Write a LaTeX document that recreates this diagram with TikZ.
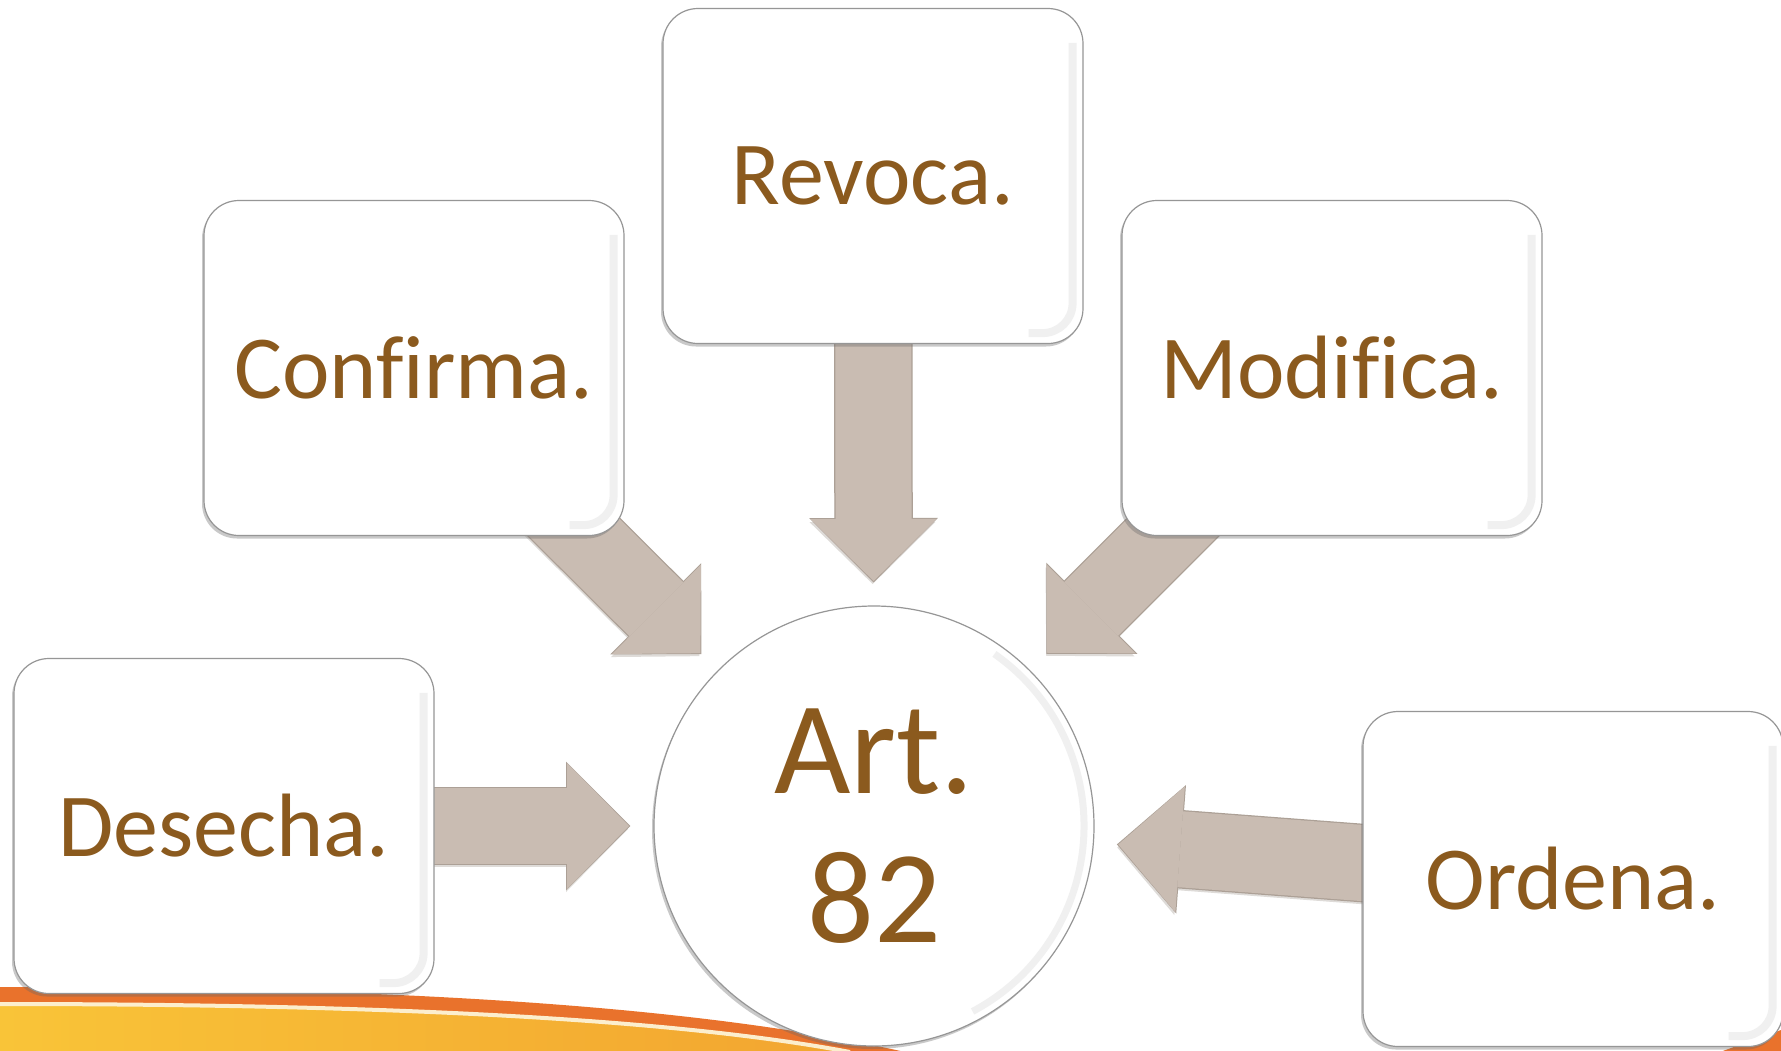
\documentclass[tikz,border=0pt]{standalone}
\usepackage{fontspec}
\setmainfont{Carlito}[Ligatures=NoCommon]
\usetikzlibrary{arrows.meta,shadows,calc}
\definecolor{txtbrown}{RGB}{139,90,30}
\definecolor{arrfill}{RGB}{201,188,178}
\definecolor{arredge}{RGB}{172,160,150}
\definecolor{arrshade}{RGB}{222,219,216}
\definecolor{boxedge}{RGB}{150,150,150}
\definecolor{bevelgray}{RGB}{240,240,240}
\definecolor{swooshorange}{RGB}{233,114,44}
\definecolor{swooshyellow}{RGB}{242,165,48}
\definecolor{swooshlight}{RGB}{249,196,56}
\definecolor{swooshcream}{RGB}{252,238,205}
\pgfdeclarelayer{bg}
\pgfdeclarelayer{arr}
\pgfsetlayers{bg,arr,main}
\tikzset{
  card/.style={rectangle, rounded corners=35pt, minimum width=420pt, minimum height=335pt,
    fill=white, draw=boxedge, line width=1.2pt, inner sep=0pt, text=txtbrown,
    font=\fontsize{90}{100}\selectfont,
    drop shadow={shadow xshift=-2pt, shadow yshift=-3pt, opacity=0.35, fill=black!60}},
  hub/.style={circle, minimum size=440pt, inner sep=0pt, fill=white, draw=boxedge,
    line width=1.2pt, text=txtbrown, align=center, font=\fontsize{132}{149}\selectfont,
    drop shadow={shadow xshift=-2pt, shadow yshift=-3pt, opacity=0.35, fill=black!60}},
  arrowshade/.style={draw=arrshade, line width=76pt, shorten >=245pt,
    -{Triangle[width=126pt,length=62pt,line width=0pt]},
    transform canvas={xshift=-1pt,yshift=-3pt}},
  arrowedge/.style={draw=arredge, line width=78.5pt, shorten >=243.6pt,
    -{Triangle[width=128.8pt,length=64.4pt,line width=0pt]}},
  arrowbody/.style={draw=arrfill, line width=76pt, shorten >=245pt,
    -{Triangle[width=126pt,length=62pt,line width=0pt]}},
  bevelline/.style={draw=bevelgray, line width=8pt, rounded corners=30pt},
}
\newcommand{\cardbevel}[1]{%
  \draw[bevelline] ([xshift=-11pt,yshift=-35pt]#1.north east) --
    ([xshift=-11pt,yshift=11pt]#1.south east) --
    ([xshift=-55pt,yshift=11pt]#1.south east);}
\begin{document}
\begin{tikzpicture}[x=1pt,y=-1pt]
\useasboundingbox (0,0) rectangle (1781,1050);
% nodes
\node[card] (revoca) at (873,176) {Revoca.};
\node[card] (confirma) at (414,368) {Confirma.};
\node[card] (modifica) at (1332,368) {Modifica.};
\node[card] (desecha) at (224,826) {Desecha.};
\node[card] (ordena) at (1573,879) {Ordena.};
\node[hub] (art) at (874,826) {Art.\\82};
\foreach \c in {revoca,confirma,modifica,desecha,ordena} {\cardbevel{\c}}
\draw[draw=bevelgray, line width=7pt] (art.center) ++(-62:210pt) arc[start angle=-62, end angle=55, radius=210pt];
% background and swoosh
\begin{pgfonlayer}{bg}
\fill[white] (0,0) rectangle (1781,1050);
\fill[swooshorange] (0,987) .. controls (400,987) and (700,1006) .. (905,1052) -- (0,1052) -- cycle;
\shade[left color=swooshlight, right color=swooshyellow]
  (0,1004) .. controls (400,1004) and (680,1020) .. (850,1052) -- (0,1052) -- cycle;
\draw[swooshcream, line width=4pt] (0,1004) .. controls (400,1004) and (680,1020) .. (850,1052);
\fill[swooshorange] (1720,1052) -- (1781,1030) -- (1781,1052) -- cycle;
\end{pgfonlayer}
% block arrows
\begin{pgfonlayer}{arr}
\foreach \s in {revoca,confirma,modifica,desecha,ordena} {
  \draw[arrowshade] (\s.center) -- (art.center);
  \draw[arrowedge] (\s.center) -- (art.center);
  \draw[arrowbody] (\s.center) -- (art.center);
}
\end{pgfonlayer}
\end{tikzpicture}
\end{document}
